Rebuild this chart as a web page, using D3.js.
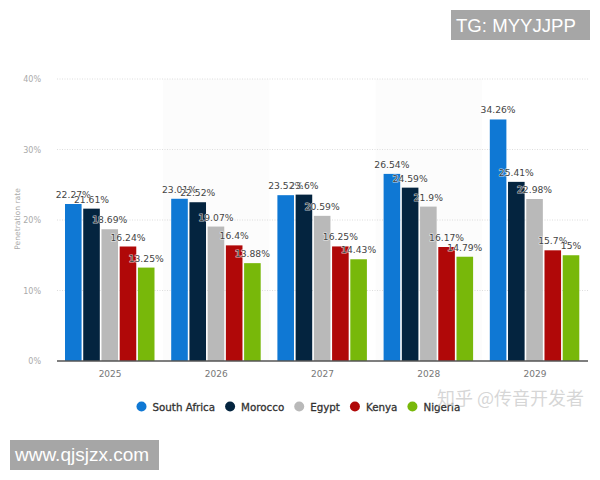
<!DOCTYPE html>
<html>
<head>
<meta charset="utf-8">
<script src="https://cdn.jsdelivr.net/npm/d3@7"></script>
<style>
  html, body { margin: 0; padding: 0; background: #fff; }
  svg { display: block; }
  text { font-family: "DejaVu Sans", sans-serif; }
  .axis .domain { display: none; }
  .axis .tick line { display: none; }
</style>
</head>
<body>
<div id="chart"></div>
<script>
var svgWidth = 600;
var svgHeight = 480;

var years = ["2025", "2026", "2027", "2028", "2029"];
var countries = ["South Africa", "Morocco", "Egypt", "Kenya", "Nigeria"];
var colors = ["#0f78d4", "#04243f", "#b9b9b9", "#b00808", "#78b80a"];
var southAfrica = [22.27, 23.01, 23.52, 26.54, 34.26];
var morocco = [21.61, 22.52, 23.6, 24.59, 25.41];
var egypt = [18.69, 19.07, 20.59, 21.9, 22.98];
var kenya = [16.24, 16.4, 16.25, 16.17, 15.7];
var nigeria = [13.25, 13.88, 14.43, 14.79, 15];
var yTicks = [0, 10, 20, 30, 40];

var seriesValues = [southAfrica, morocco, egypt, kenya, nigeria];

var svg = d3.select("#chart")
  .append("svg")
  .attr("width", svgWidth)
  .attr("height", svgHeight);

var xScale = d3.scaleBand()
  .domain(years)
  .range([57, 588]);

var barScale = d3.scaleBand()
  .domain(countries)
  .range([8, 97.5])
  .paddingInner(0.09);

var yScale = d3.scaleLinear()
  .domain([0, 40])
  .range([361, 79]);

// shaded columns behind every second year
svg.selectAll(".shade")
  .data(years.filter((d, i) => i % 2 == 1))
  .enter()
  .append("rect")
  .attr("class", "shade")
  .attr("x", d => xScale(d))
  .attr("y", 79)
  .attr("width", xScale.bandwidth())
  .attr("height", 282)
  .attr("fill", "#fcfcfc");

svg.selectAll(".grid")
  .data(yTicks.filter(d => d > 0))
  .enter()
  .append("line")
  .attr("class", "grid")
  .attr("x1", 57)
  .attr("x2", 588)
  .attr("y1", d => yScale(d))
  .attr("y2", d => yScale(d))
  .attr("stroke", "#d4d4d4")
  .attr("stroke-width", 0.8)
  .attr("stroke-dasharray", "1,1.5");

var yAxis = d3.axisLeft(yScale)
  .tickValues(yTicks)
  .tickFormat(d => d + "%")
  .tickSize(0)
  .tickPadding(16);

svg.append("g")
  .attr("class", "axis")
  .attr("transform", "translate(57,0)")
  .call(yAxis)
  .selectAll("text")
  .attr("font-size", 8)
  .attr("fill", "#aaaaaa")
  .style("font-family", '"DejaVu Sans", sans-serif');

var xAxis = d3.axisBottom(xScale)
  .tickSize(0)
  .tickPadding(9);

svg.append("g")
  .attr("class", "axis")
  .attr("transform", "translate(0,362)")
  .call(xAxis)
  .selectAll("text")
  .attr("font-size", 9)
  .attr("fill", "#777777")
  .style("font-family", '"DejaVu Sans", sans-serif');

svg.append("text")
  .attr("transform", "translate(20,219) rotate(-90)")
  .attr("text-anchor", "middle")
  .attr("font-size", 7.6)
  .attr("fill", "#aaaaaa")
  .text("Penetration rate");

// bars
var barRows = [];
countries.forEach(function(country, s) {
  years.forEach(function(year, i) {
    barRows.push({country: country, year: year, value: seriesValues[s][i], color: colors[s]});
  });
});

svg.selectAll(".bar")
  .data(barRows)
  .enter()
  .append("rect")
  .attr("class", "bar")
  .attr("x", d => xScale(d.year) + barScale(d.country))
  .attr("y", d => yScale(d.value))
  .attr("width", barScale.bandwidth())
  .attr("height", d => yScale(0) - yScale(d.value))
  .attr("fill", d => d.color);

svg.append("line")
  .attr("x1", 57)
  .attr("x2", 588)
  .attr("y1", 361)
  .attr("y2", 361)
  .attr("stroke", "#555555")
  .attr("stroke-width", 1.3);

// labels sit over neighbouring bars, so they get a thin white edge
svg.selectAll(".label")
  .data(barRows)
  .enter()
  .append("text")
  .attr("class", "label")
  .attr("x", d => xScale(d.year) + barScale(d.country) + barScale.bandwidth() / 2)
  .attr("y", d => yScale(d.value) - 6)
  .attr("text-anchor", "middle")
  .attr("font-size", 9.2)
  .attr("fill", "#444444")
  .attr("stroke", "#ffffff")
  .attr("stroke-width", 1.2)
  .attr("stroke-opacity", 0.7)
  .attr("paint-order", "stroke")
  .text(d => d.value + "%");

// legend, laid out from the measured text widths
var legendX = 141.5;
countries.forEach(function(country, i) {
  svg.append("circle")
    .attr("cx", legendX)
    .attr("cy", 406.5)
    .attr("r", 5)
    .attr("fill", colors[i]);
  var label = svg.append("text")
    .attr("x", legendX + 11)
    .attr("y", 410.5)
    .attr("font-size", 10.3)
    .attr("fill", "#333333")
    .attr("stroke", "#333333")
    .attr("stroke-width", 0.3)
    .text(country);
  legendX += 11 + label.node().getComputedTextLength() + 15;
});

// watermarks
svg.append("text")
  .attr("x", 437)
  .attr("y", 405)
  .attr("font-size", 18)
  .attr("fill", "#cfcfcf")
  .attr("fill-opacity", 0.85)
  .style("font-family", '"Noto Sans CJK SC", sans-serif')
  .text("知乎 @传音开发者");

svg.append("rect")
  .attr("x", 451).attr("y", 10)
  .attr("width", 139).attr("height", 30)
  .attr("fill", "#a6a6a6");
svg.append("text")
  .attr("x", 456).attr("y", 32)
  .attr("font-size", 18.6)
  .attr("fill", "#ffffff")
  .style("font-family", '"Liberation Sans", sans-serif')
  .text("TG: MYYJJPP");

svg.append("rect")
  .attr("x", 10).attr("y", 440)
  .attr("width", 149).attr("height", 30)
  .attr("fill", "#a6a6a6");
svg.append("text")
  .attr("x", 15).attr("y", 461)
  .attr("font-size", 19)
  .attr("fill", "#ffffff")
  .style("font-family", '"Liberation Sans", sans-serif')
  .text("www.qjsjzx.com");
</script>
</body>
</html>
